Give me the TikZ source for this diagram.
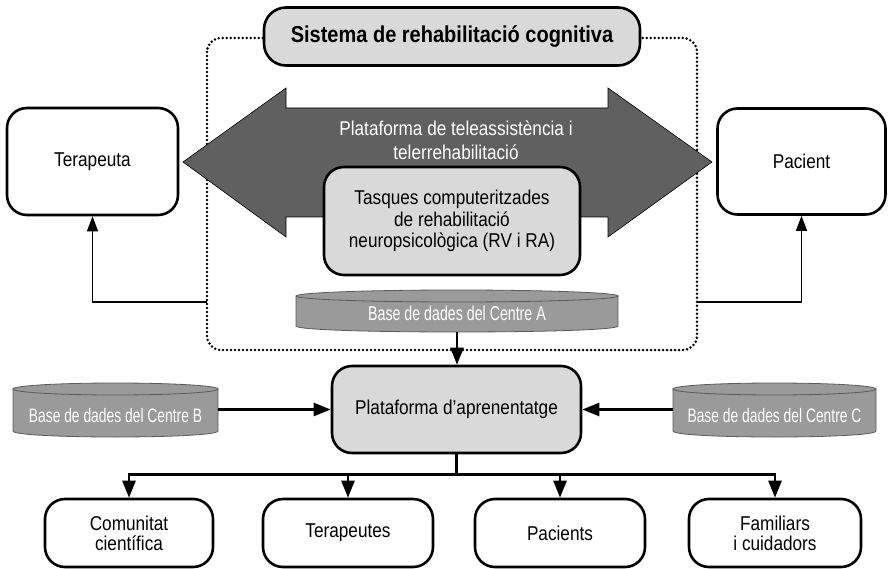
\documentclass[tikz,border=0pt]{standalone}
\usepackage{fontspec}
\setmainfont{Liberation Sans}
\newfontfamily\narrowfont[FakeStretch=0.86]{Liberation Sans}
\newfontfamily\titlefont[FakeStretch=0.87]{Liberation Sans}
\newfontfamily\cylfont[FakeStretch=0.71]{Liberation Sans}
\usetikzlibrary{arrows.meta}
\definecolor{boxgray}{HTML}{D9D9D9}
\definecolor{arrowgray}{HTML}{606060}
\definecolor{cylgray}{HTML}{9A9A9A}
\definecolor{cylline}{HTML}{5A5A5A}
\begin{document}
\begin{tikzpicture}[x=1pt,y=-1pt,
  box/.style={draw=black, line width=2.6pt, rounded corners=20pt, inner sep=0pt,
    align=center, font=\narrowfont\fontsize{20}{20}\selectfont},
  graybox/.style={box, fill=boxgray},
  whitebox/.style={box, fill=white},
  dotbox/.style={line width=2.8pt, dash pattern=on 0pt off 4pt, line cap=round, rounded corners=14pt},
  bigarrow/.style={draw=black, line width=0.6pt, fill=arrowgray},
  cylbody/.style={fill=cylgray, draw=cylline, line width=0.8pt},
  dbtext/.style={inner sep=0pt, text=white, font=\cylfont\fontsize{19.5}{20}\selectfont},
  thickline/.style={line width=2.6pt},
  thickarrow/.style={line width=2.6pt, -{Triangle[length=17pt,width=13pt]}},
  thinarrow/.style={line width=1.2pt, -{Triangle[length=15pt,width=11pt]}}
]
\useasboundingbox[fill=white] (0,0) rectangle (888,569);

% dotted frame of the system
\draw[dotbox] (207,38) rectangle (697,350);

% title
\node[graybox, rounded corners=22pt, minimum width=376pt, minimum height=58pt,
  font=\titlefont\bfseries\fontsize{23}{24}\selectfont] (title) at (452,36.5)
  {Sistema de rehabilitació cognitiva};

% big double arrow
\path[bigarrow] (183,162) -- (286,88) -- (286,108) -- (608,108) -- (608,88)
  -- (712,162) -- (608,237) -- (608,217) -- (286,217) -- (286,237) -- cycle;
\node[align=center, text=white, inner sep=0pt,
  font=\narrowfont\fontsize{20}{24}\selectfont] (tele) at (456,140)
  {Plataforma de teleassistència i\\telerrehabilitació};

% tasks box
\node[graybox, minimum width=256pt, minimum height=108pt,
  font=\narrowfont\fontsize{20}{21.5}\selectfont] (tasq) at (452,221)
  {Tasques computeritzades\\de rehabilitació\\neuropsicològica (RV i RA)};

% database A
\path[cylbody] (296,296) -- (296,326) .. controls (296,334) and (618,334) .. (618,326) -- (618,296) -- cycle;
\path[cylbody] (457,296) ellipse [x radius=161pt, y radius=6pt];
\node[dbtext, minimum width=322pt, minimum height=38pt,
  font=\cylfont\fontsize{20}{20}\selectfont] (dbA) at (457,313) {Base de dades del Centre A};

% database B
\path[cylbody] (13,389) -- (13,431) .. controls (13,439) and (218,439) .. (218,431) -- (218,389) -- cycle;
\path[cylbody] (115.5,389) ellipse [x radius=102.5pt, y radius=6pt];
\node[dbtext, minimum width=205pt] (dbB) at (115.5,416) {Base de dades del Centre B};

% database C
\path[cylbody] (673,389) -- (673,431) .. controls (673,439) and (876,439) .. (876,431) -- (876,389) -- cycle;
\path[cylbody] (774.5,389) ellipse [x radius=101.5pt, y radius=6pt];
\node[dbtext, minimum width=203pt] (dbC) at (774.5,416) {Base de dades del Centre C};

% side actors
\node[whitebox, minimum width=171pt, minimum height=107pt] (ter) at (92.5,161.5) {Terapeuta};
\node[whitebox, minimum width=168pt, minimum height=106pt] (pac) at (801.5,161.5) {Pacient};

% learning platform
\node[graybox, minimum width=249pt, minimum height=87pt] (plat) at (456.5,409.5)
  {Plataforma d’aprenentatge};

% audiences
\node[whitebox, minimum width=168pt, minimum height=68pt] (comu) at (129,533)
  {Comunitat\\científica};
\node[whitebox, minimum width=170pt, minimum height=68pt] (terps) at (348,533) {Terapeutes};
\node[whitebox, minimum width=170pt, minimum height=68pt] (pacs) at (560,533) {Pacients};
\node[whitebox, minimum width=172pt, minimum height=68pt] (fam) at (775,533)
  {Familiars\\i cuidadors};

% connectors
\coordinate (dl) at (207,302);
\coordinate (dr) at (697,302);
\draw[thinarrow] (dl) -| (ter.south);
\draw[thinarrow] (dr) -| (pac.south);

\draw[thickarrow] (dbA.south) -- (dbA.south |- plat.north);
\draw[thickarrow] (dbB.east |- plat.west) -- (plat.west);
\draw[thickarrow] (dbC.west |- plat.east) -- (plat.east);

\draw[thickline] (plat.south) -- ++(0,20) coordinate (jn);
\draw[thickline, line cap=rect] (comu.north |- jn) -- (fam.north |- jn);
\foreach \n in {comu,terps,pacs,fam}
  \draw[thickarrow] (\n.north |- jn) -- (\n.north);
\end{tikzpicture}
\end{document}
